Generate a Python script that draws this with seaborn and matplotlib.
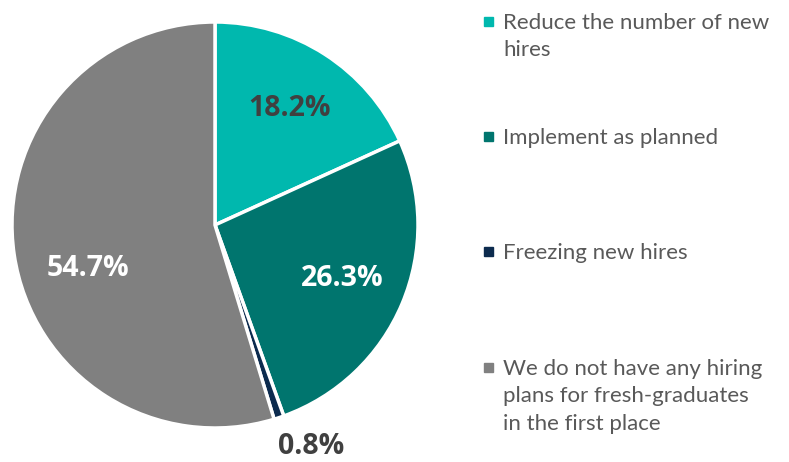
import matplotlib.pyplot as plt
import numpy as np
import seaborn as sns
from matplotlib.patches import Rectangle

sns.set_theme(style="white")
plt.rcParams["font.family"] = ["Lato", "DejaVu Sans"]

# data
labels = [
    "Reduce the number of new\nhires",
    "Implement as planned",
    "Freezing new hires",
    "We do not have any hiring\nplans for fresh-graduates\nin the first place",
]
values = [18.2, 26.3, 0.8, 54.7]
colors = ["#00B8AE", "#00756E", "#0C2B4E", "#808080"]
pct_colors = ["#404040", "white", "#404040", "white"]

fig = plt.figure(figsize=(7.89, 4.62), dpi=100)
ax = fig.add_axes([12 / 789, 34 / 462, 406 / 789, 406 / 462])

wedges, texts, autotexts = ax.pie(
    values,
    colors=colors,
    startangle=90,
    counterclock=False,
    autopct="%.1f%%",
    pctdistance=0.68,
    wedgeprops={"edgecolor": "white", "linewidth": 2.5},
    textprops={"fontsize": 20.5, "fontweight": "bold", "family": ["Open Sans", "DejaVu Sans"]},
)
ax.set_xlim(-1, 1)
ax.set_ylim(-1, 1)
ax.set_aspect("equal")

for t, c in zip(autotexts, pct_colors):
    t.set_color(c)

# small slice label goes outside
w = wedges[2]
ang = np.deg2rad((w.theta1 + w.theta2) / 2)
autotexts[2].set_position((1.15 * np.cos(ang) + 0.11, 1.15 * np.sin(ang)))

# 54.7% sits a bit lower-left in the original
x, y = autotexts[3].get_position()
autotexts[3].set_position((x + 0.045, y - 0.115))

# legend drawn by hand so the marker lines up with the first line
item_tops = [13, 128, 243, 359]
for lab, col, top in zip(labels, colors, item_tops):
    fig.patches.append(
        Rectangle((484 / 789, 1 - (top + 13) / 462), 9 / 789, 9 / 462,
                  transform=fig.transFigure, color=col)
    )
    fig.text(503 / 789, 1 - top / 462, lab, fontsize=16, color="#595959",
             va="top", ha="left", linespacing=1.46)

fig.savefig("out.png", dpi=100)
